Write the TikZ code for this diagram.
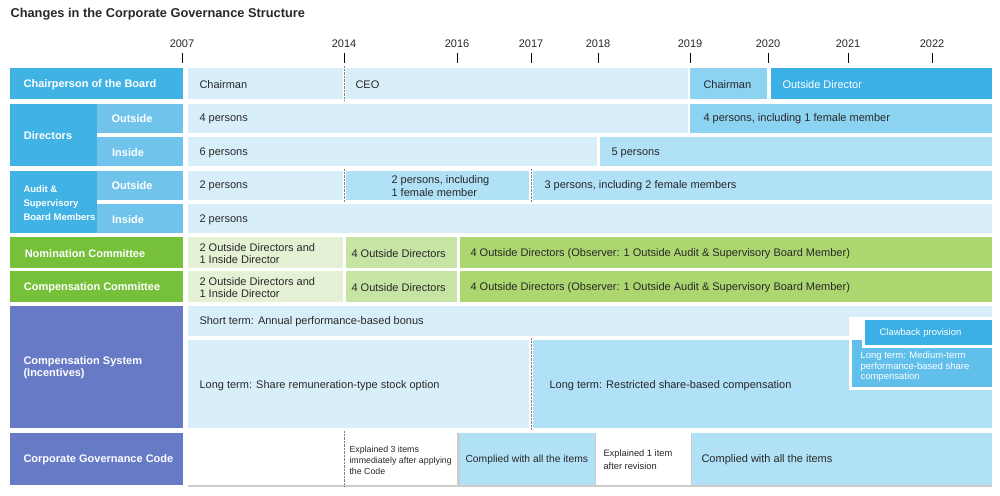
\documentclass[tikz,border=0pt]{standalone}
\usepackage{fontspec}
\setmainfont{Liberation Sans}
\definecolor{hdblue}{RGB}{64,178,228}
\definecolor{subblue}{RGB}{112,196,236}
\definecolor{lt}{RGB}{216,239,250}
\definecolor{md}{RGB}{176,225,246}
\definecolor{st}{RGB}{140,211,242}
\definecolor{dk}{RGB}{58,176,230}
\definecolor{hdgreen}{RGB}{118,192,58}
\definecolor{ltg}{RGB}{228,241,212}
\definecolor{mdg}{RGB}{198,228,164}
\definecolor{dkg}{RGB}{172,214,112}
\definecolor{hdpurple}{RGB}{102,122,198}
\definecolor{txt}{RGB}{40,40,40}
\tikzset{
  lbl/.style={font=\fontsize{11}{12}\selectfont\bfseries, text=white, align=left},
  txt/.style={font=\fontsize{11}{12.5}\selectfont, text=txt, anchor=west, align=left},
  sml/.style={font=\fontsize{8.8}{11}\selectfont, text=txt, anchor=west, align=left},
  yr/.style={font=\fontsize{11}{12}\selectfont, text=txt}
}
\begin{document}
\begin{tikzpicture}[x=1pt,y=-1pt]
  \useasboundingbox (0,0) rectangle (1000,495);
  \fill[white] (0,0) rectangle (1000,495);
  % Titre
  \node[anchor=west, font=\fontsize{12.8}{14}\selectfont\bfseries, text=txt] (title) at (7,14) {Changes in the Corporate Governance Structure};

  % Années
  \foreach \x/\y in {182/2007,344/2014,457/2016,531/2017,598/2018,690/2019,768/2020,848/2021,932/2022} {
    \node[yr] (y\y) at (\x,44) {\y};
    \draw[txt, thick] (\x,53) -- (\x,63);
  }

  % En-têtes
  \fill[hdblue] (10,68) rectangle (183,99);
  \node[lbl] (chair) at (90,85) {Chairperson of the Board};
  \fill[hdblue] (10,104) rectangle (97,166);
  \node[lbl] (dir) at (48,136) {Directors};
  \fill[subblue] (97,104) rectangle (183,133);
  \node[lbl] (dirout) at (132,119) {Outside};
  \fill[subblue] (97,137) rectangle (183,166);
  \node[lbl] (dirin) at (128,153) {Inside};
  \fill[hdblue] (10,171) rectangle (97,233);
  \node[lbl, anchor=west, font=\fontsize{9.5}{14}\selectfont\bfseries] (aud) at (20,203) {Audit \&\\Supervisory\\Board Members};
  \fill[subblue] (97,171) rectangle (183,200);
  \node[lbl] (audout) at (132,186) {Outside};
  \fill[subblue] (97,204) rectangle (183,233);
  \node[lbl] (audin) at (128,220) {Inside};
  \fill[hdgreen] (10,237) rectangle (183,268);
  \node[lbl] (nom) at (85,254) {Nomination Committee};
  \fill[hdgreen] (10,271) rectangle (183,302);
  \node[lbl] (comp) at (92,288) {Compensation Committee};
  \fill[hdpurple] (10,306) rectangle (183,428);
  \node[lbl, anchor=west] (sys) at (20,368) {Compensation System\\(Incentives)};
  \fill[hdpurple] (10,433) rectangle (183,485);
  \node[lbl, anchor=west] (cgc) at (20,460) {Corporate Governance Code};

  % Président
  \fill[lt] (188,68) rectangle (343,99);
  \node[txt] (c1) at (196,85) {Chairman};
  \fill[lt] (346,68) rectangle (688,99);
  \node[txt] (c2) at (352,85) {CEO};
  \fill[st] (690,68) rectangle (767,99);
  \node[txt] (c3) at (700,85) {Chairman};
  \fill[dk] (771,68) rectangle (992,99);
  \node[txt, text=white] (c4) at (779,85) {Outside Director};
  \draw[gray, densely dotted] (344,66) -- (344,101);

  % Administrateurs
  \fill[lt] (188,104) rectangle (688,133);
  \node[txt] (d1) at (196,119) {4 persons};
  \fill[st] (690,104) rectangle (992,133);
  \node[txt] (d2) at (700,119) {4 persons, including 1 female member};
  \fill[lt] (188,137) rectangle (597,166);
  \node[txt] (d3) at (196,153) {6 persons};
  \fill[md] (600,137) rectangle (992,166);
  \node[txt] (d4) at (608,153) {5 persons};

  % Audit
  \fill[lt] (188,171) rectangle (343,200);
  \node[txt] (a1) at (196,186) {2 persons};
  \fill[md] (346,171) rectangle (529,200);
  \node[txt] (a2) at (388,186) {2 persons, including\\1 female member};
  \fill[md] (533,171) rectangle (992,200);
  \node[txt] (a3) at (541,186) {3 persons, including 2 female members};
  \fill[lt] (188,204) rectangle (992,233);
  \node[txt] (a4) at (196,220) {2 persons};
  \draw[gray, densely dotted] (344,169) -- (344,202);
  \draw[gray, densely dotted] (531,169) -- (531,202);

  % Comités
  \foreach \yt/\n in {237/nom,271/comp} {
    \fill[ltg] (188,\yt) rectangle (343,\yt+31);
    \node[txt] (\n1) at (196,\yt+16.5) {2 Outside Directors and\\1 Inside Director};
    \fill[mdg] (346,\yt) rectangle (457,\yt+31);
    \node[txt] (\n2) at (348,\yt+16.5) {4 Outside Directors};
    \fill[dkg] (460,\yt) rectangle (992,\yt+31);
    \node[txt] (\n3) at (467,\yt+16.5) {4 Outside Directors (Observer: 1 Outside Audit \& Supervisory Board Member)};
  }

  % Rémunération
  \fill[lt] (188,306) rectangle (992,336);
  \node[txt] (s1) at (196,322) {Short term: Annual performance-based bonus};
  \fill[lt] (188,340) rectangle (529,428);
  \node[txt] (l1) at (196,386) {Long term: Share remuneration-type stock option};
  \fill[md] (533,340) rectangle (992,428);
  \node[txt] (l2) at (546,386) {Long term: Restricted share-based compensation};
  \draw[gray, densely dotted] (531,338) -- (531,430);
  \fill[white] (849,317) rectangle (995,390);
  \fill[dk!80] (852,340) rectangle (992,387);
  \node[txt, text=white, font=\fontsize{9.5}{10.5}\selectfont] (l3) at (857,367) {Long term: Medium-term\\performance-based share\\compensation};
  \fill[white] (862,317) rectangle (995,348);
  \fill[dk] (865,320) rectangle (992,345);
  \node[txt, text=white, font=\fontsize{9.5}{10.5}\selectfont] (cb) at (876,333) {Clawback provision};

  % Code
  \fill[gray!40] (188,433) rectangle (992,487);
  \fill[white] (188,433) rectangle (457,485);
  \node[sml] (g1) at (346,460) {Explained 3 items\\immediately after applying\\the Code};
  \fill[md] (460,433) rectangle (595,485);
  \node[txt, font=\fontsize{10.3}{12}\selectfont] (g2) at (462,460) {Complied with all the items};
  \fill[white] (596,433) rectangle (691,485);
  \node[sml, font=\fontsize{9.3}{13}\selectfont] (g3) at (600,460) {Explained 1 item\\after revision};
  \fill[md] (692,433) rectangle (992,485);
  \node[txt] (g4) at (698,460) {Complied with all the items};
  \draw[gray, densely dotted] (344,431) -- (344,487);
\end{tikzpicture}
\end{document}
